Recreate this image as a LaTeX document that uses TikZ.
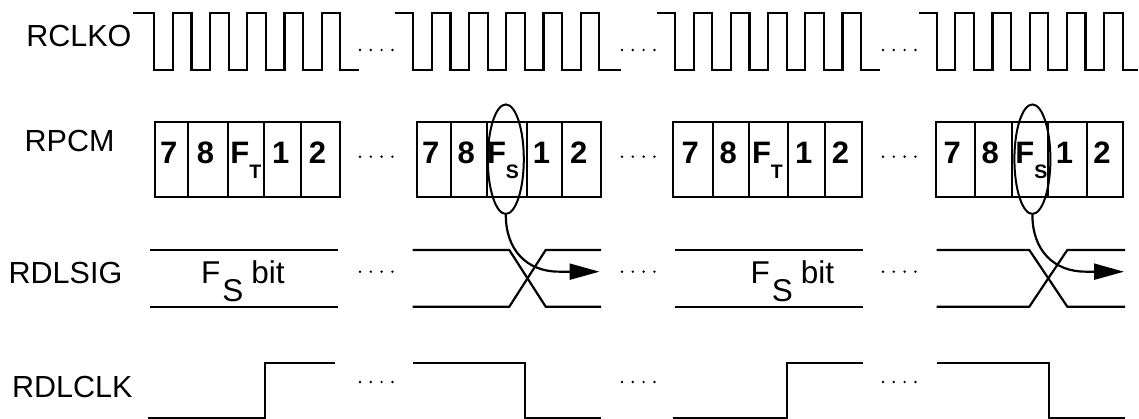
\documentclass[tikz,border=0pt]{standalone}
\usepackage{fontspec}
\setmainfont{Liberation Sans}
\usetikzlibrary{shapes.geometric,arrows.meta}
\begin{document}
\begin{tikzpicture}[x=1pt,y=-1pt,line width=2.2pt,line join=miter,
  lbl/.style={font=\fontsize{30.5}{30.5}\selectfont,inner sep=0,anchor=base west},
  dig/.style={font=\fontsize{31}{31}\selectfont\bfseries,inner sep=0,anchor=base},
  fsx/.style={font=\fontsize{31}{31}\selectfont\bfseries,inner sep=0,anchor=base west},
  sig/.style={font=\fontsize{31.5}{31.5}\selectfont,inner sep=0,anchor=base west},
  selell/.style={ellipse,draw,line width=2pt,minimum width=36pt,minimum height=109.5pt,inner sep=0},
  flow/.style={line width=2.2pt,-{Triangle[length=30pt,width=16pt]}},
  wave/.style={line width=2.2pt}
]
\fill[white] (0,0) rectangle (1139,419);
\useasboundingbox (0,0) rectangle (1139,419);

% labels
\node[lbl] (lrclko) at (25.3,46.7) {RCLKO};
\node[lbl] (lrpcm) at (23.6,151.7) {RPCM};
\node[lbl] (lrdlsig) at (7.6,283.3) {RDLSIG};
\node[lbl] (lrdlclk) at (11,397) {RDLCLK};

% RCLKO clock groups
\def\hp{18.6}
\foreach \s/\f/\e in {133/154.3/359.3, 395/413.3/620.7, 656.7/675/880, 919.3/936.7/1138}{
  \draw[wave] (\s,13) -- (\f,13)
    \foreach \i in {0,...,4}{ -- ++(0,57) -- ++(\hp,0) -- ++(0,-57) -- ++(\hp,0) }
    -- ++(0,57) -- (\e,70);
}

% ellipsis dots
\foreach \y in {50,156.7,271.7,382}
  \foreach \x in {360,622,883}
    \foreach \k in {0,...,3}
      \fill (\x+\k*10.8,\y) circle[radius=1.35pt];

% RPCM frames
\draw (155,122.3) rectangle (340,197.3);
\foreach \x in {188.3,227.7,264.3,301} \draw (\x,122.3) -- (\x,197.3);
\draw (416.7,122.3) rectangle (601,197.3);
\foreach \x in {451,486.7,526.7,562.3} \draw (\x,122.3) -- (\x,197.3);
\draw (673.3,122.3) rectangle (861.7,197.3);
\foreach \x in {713.3,749.3,788.3,825} \draw (\x,122.3) -- (\x,197.3);
\draw (935.7,122.3) rectangle (1123.3,197.3);
\foreach \x in {975,1011.7,1048.3,1086.7} \draw (\x,122.3) -- (\x,197.3);

% RPCM cell texts
\node[dig] (a7) at (168.7,163.3) {7};
\node[dig] (a8) at (205.5,163.3) {8};
\node[fsx] (aF) at (229.3,163.3) {F\raisebox{-15pt}{\fontsize{19.5}{19.5}\selectfont T}};
\node[dig] (a1) at (280.7,163.3) {1};
\node[dig] (a2) at (317.5,163.3) {2};

\node[dig] (b7) at (430.8,163.3) {7};
\node[dig] (b8) at (466.3,163.3) {8};
\node[fsx] (bF) at (485.9,163.3) {F\raisebox{-15pt}{\fontsize{19.5}{19.5}\selectfont S}};
\node[dig] (b1) at (541.5,163.3) {1};
\node[dig] (b2) at (578.7,163.3) {2};

\node[dig] (c7) at (690.3,163.3) {7};
\node[dig] (c8) at (728.3,163.3) {8};
\node[fsx] (cF) at (750.9,163.3) {F\raisebox{-15pt}{\fontsize{19.5}{19.5}\selectfont T}};
\node[dig] (c1) at (803.7,163.3) {1};
\node[dig] (c2) at (840.4,163.3) {2};

\node[dig] (d7) at (952.3,163.3) {7};
\node[dig] (d8) at (990.3,163.3) {8};
\node[fsx] (dF) at (1014.3,163.3) {F\raisebox{-15pt}{\fontsize{19.5}{19.5}\selectfont S}};
\node[dig] (d1) at (1064.5,163.3) {1};
\node[dig] (d2) at (1102,163.3) {2};

% RDLSIG
\draw (150,250) -- (338,250);
\draw (150,306.7) -- (338,306.7);
\node[sig] (fsb1) at (200.1,283.3) {F\hspace{2pt}\raisebox{-18.4pt}{S}\hspace{8pt}bit};
\draw (412.7,250) -- (509.3,250) -- (545.7,306.7) -- (601,306.7);
\draw (412.7,306.7) -- (509.3,306.7) -- (545.7,250) -- (601,250);
\draw (675,250) -- (863,250);
\draw (675,306.7) -- (863,306.7);
\node[sig] (fsb3) at (749.4,283.3) {F\hspace{2pt}\raisebox{-18.4pt}{S}\hspace{8pt}bit};
\draw (936.7,250) -- (1029.3,250) -- (1067.3,306.7) -- (1125,306.7);
\draw (936.7,306.7) -- (1029.3,306.7) -- (1067.3,250) -- (1125,250);

% RDLCLK
\draw (148.3,418) -- (265,418) -- (265,363) -- (335,363);
\draw (412.7,363) -- (525,363) -- (525,418) -- (600.7,418);
\draw (672.7,418) -- (786.7,418) -- (786.7,363) -- (862.7,363);
\draw (936.7,363) -- (1049.3,363) -- (1049.3,418) -- (1125,418);

% selection ellipses and arrows
\node[selell] (e2) at (505.8,159.2) {};
\node[selell] (e4) at (1032.4,159.2) {};
\coordinate (t2) at (599.5,271.7);
\coordinate (t4) at (1124,271.7);
\draw[flow] (e2.south) .. controls +(0,35) and +(-32,0) .. ++(53,56.7) -- (t2);
\draw[flow] (e4.south) .. controls +(0,35) and +(-32,0) .. ++(53,56.7) -- (t4);
\end{tikzpicture}
\end{document}
